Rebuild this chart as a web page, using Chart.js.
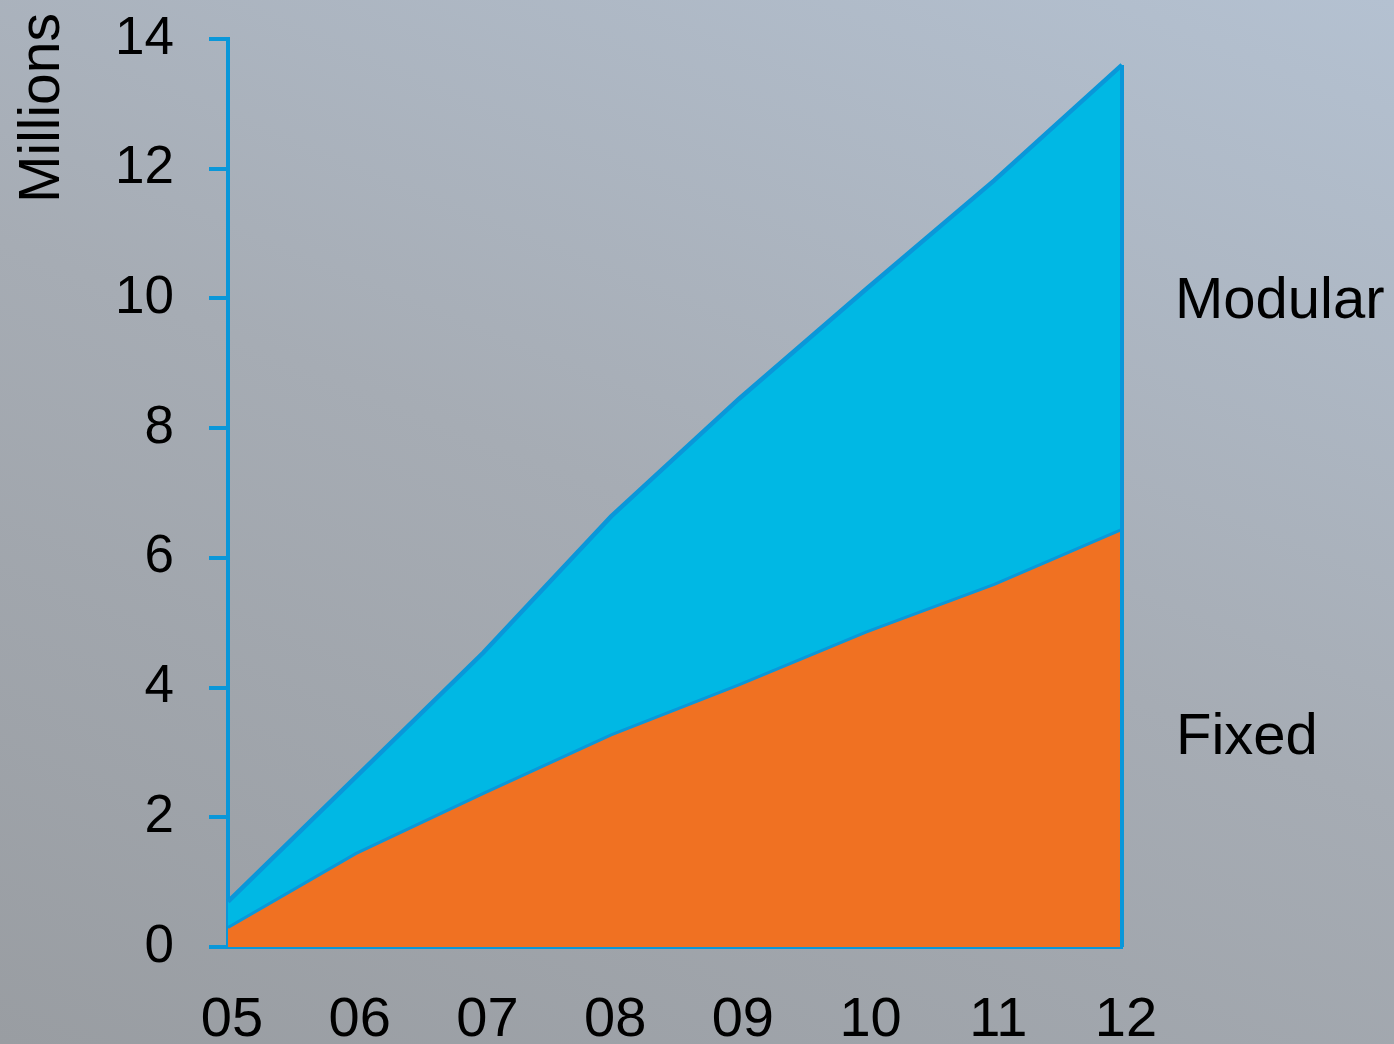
<!DOCTYPE html>
<html>
<head>
<meta charset="utf-8">
<script src="https://cdn.jsdelivr.net/npm/chart.js@4"></script>
<style>
    html, body {
        margin: 0;
        padding: 0;
        width: 1394px;
        height: 1044px;
        overflow: hidden;
    }
    body {
        background: linear-gradient(22deg, #999da2 0%, #a6acb4 50%, #b4c1d1 100%);
    }
    #chart-wrap {
        position: relative;
        width: 1394px;
        height: 1044px;
    }
</style>
</head>
<body>
<div id="chart-wrap"><canvas id="area-chart"></canvas></div>
<script>
// ===== Data (millions) =====
const years = ['05', '06', '07', '08', '09', '10', '11', '12'];
const fixedValues = [0.30, 1.44, 2.37, 3.27, 4.04, 4.86, 5.59, 6.44];
const modularValues = [0.40, 1.18, 2.17, 3.37, 4.41, 5.29, 6.23, 7.16];
const yTicks = [0, 2, 4, 6, 8, 10, 12, 14];

const AXIS_BLUE = '#0a97d9';
const FONT = '"Liberation Sans", Arial, sans-serif';

// Side labels + axis title + right edge of the stacked area
const annotationsPlugin = {
    id: 'annotations',
    afterDatasetsDraw(chart) {
        const ctx = chart.ctx;
        const x = chart.scales.x;
        const y = chart.scales.y;
        const last = years.length - 1;
        const total = fixedValues[last] + modularValues[last];

        // closing edge at the last year
        ctx.save();
        ctx.strokeStyle = AXIS_BLUE;
        ctx.lineWidth = 4;
        ctx.beginPath();
        ctx.moveTo(x.getPixelForValue(last), y.getPixelForValue(total));
        ctx.lineTo(x.getPixelForValue(last), y.getPixelForValue(0));
        ctx.stroke();
        ctx.restore();
    },
    afterDraw(chart) {
        const ctx = chart.ctx;
        const area = chart.chartArea;
        const y = chart.scales.y;

        ctx.save();
        ctx.fillStyle = '#000';
        ctx.font = '58px ' + FONT;
        ctx.textAlign = 'left';
        ctx.textBaseline = 'middle';
        ctx.fillText('Modular', area.right + 53, y.getPixelForValue(9.95));
        ctx.fillText('Fixed', area.right + 54, y.getPixelForValue(3.22));

        // "Millions" rotated, near the top of the y axis
        ctx.font = '57px ' + FONT;
        ctx.translate(43, area.top + 69);
        ctx.rotate(-Math.PI / 2);
        ctx.textAlign = 'center';
        ctx.fillText('Millions', 0, 0);
        ctx.restore();
    }
};

function initAreaChart() {
    const ctx = document.getElementById('area-chart').getContext('2d');

    new Chart(ctx, {
        type: 'line',
        data: {
            labels: years,
            datasets: [{
                label: 'Fixed',
                data: fixedValues,
                borderColor: AXIS_BLUE,
                borderWidth: 3,
                backgroundColor: '#f07122',
                fill: 'origin',
                pointRadius: 0,
                tension: 0
            }, {
                label: 'Modular',
                data: modularValues,
                borderColor: AXIS_BLUE,
                borderWidth: 4.5,
                backgroundColor: '#00b8e4',
                fill: '-1',
                pointRadius: 0,
                tension: 0
            }]
        },
        options: {
            responsive: true,
            maintainAspectRatio: false,
            animation: false,
            layout: {
                padding: { top: 39, right: 272, bottom: 0, left: 0 }
            },
            plugins: {
                legend: { display: false },
                tooltip: { enabled: false }
            },
            scales: {
                x: {
                    offset: false,
                    afterFit(scale) {
                        scale.height = 97;
                        scale.paddingLeft = 0;
                        scale.paddingRight = 0;
                    },
                    border: { display: true, color: AXIS_BLUE, width: 4 },
                    grid: { display: false, drawTicks: false },
                    ticks: {
                        color: '#000',
                        padding: 40,
                        labelOffset: 4,
                        maxRotation: 0,
                        autoSkip: false,
                        font: { family: FONT, size: 56 }
                    }
                },
                y: {
                    stacked: true,
                    min: 0,
                    max: 14,
                    afterFit(scale) {
                        scale.width = 228;
                        scale.paddingTop = 0;
                        scale.paddingBottom = 0;
                    },
                    afterBuildTicks(scale) {
                        scale.ticks = yTicks.map(v => ({ value: v }));
                    },
                    border: { display: true, color: AXIS_BLUE, width: 4 },
                    grid: {
                        drawOnChartArea: false,
                        drawTicks: true,
                        tickLength: 19,
                        color: AXIS_BLUE,
                        lineWidth: 4
                    },
                    ticks: {
                        color: '#000',
                        padding: 35,
                        font: { family: FONT, size: 53 }
                    }
                }
            }
        },
        plugins: [annotationsPlugin]
    });
}

initAreaChart();
</script>
</body>
</html>
